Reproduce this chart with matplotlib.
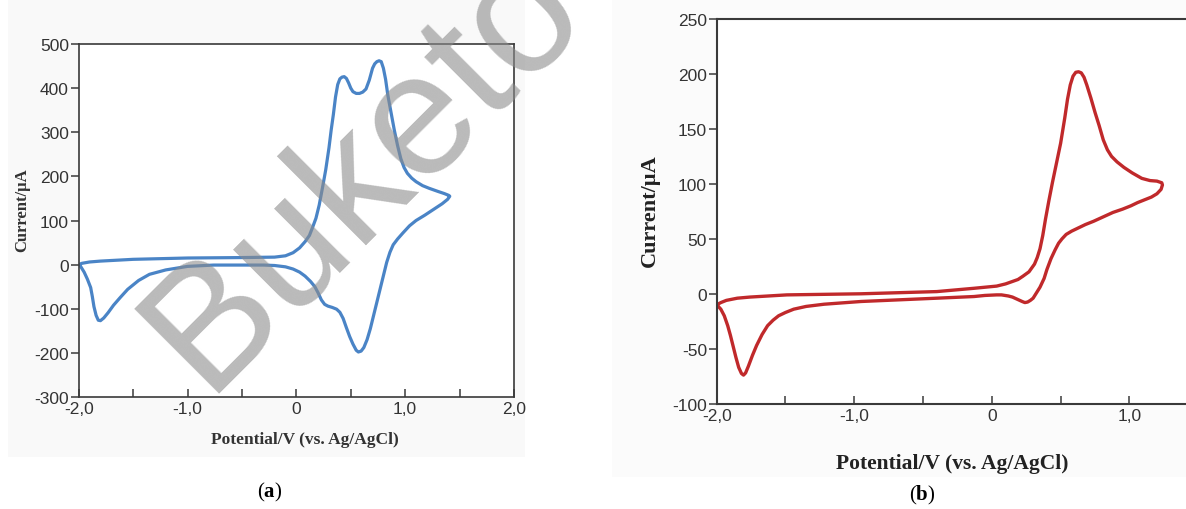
import matplotlib
matplotlib.use("Agg")
import matplotlib.pyplot as plt
from matplotlib.patches import Rectangle

plt.rcParams["axes.unicode_minus"] = False

# ---------------- data ----------------
# Panel (a): cyclic voltammogram, forward (anodic) then reverse scan
a_potential = [-2.0, -1.97, -1.9, -1.8, -1.5, -1.0, -0.5, -0.2, -0.1, -0.03, 0.03, 0.08,
               0.12, 0.15, 0.18, 0.21, 0.24, 0.27, 0.30, 0.32, 0.34, 0.36, 0.38, 0.40,
               0.42, 0.44, 0.46, 0.48, 0.50, 0.52, 0.55, 0.58, 0.61, 0.64, 0.67, 0.70,
               0.72, 0.74, 0.76, 0.78, 0.80, 0.82, 0.84, 0.87, 0.90, 0.93, 0.96, 0.99,
               1.02, 1.06, 1.10, 1.16, 1.22, 1.30, 1.36, 1.40, 1.41,
               1.39, 1.34, 1.26, 1.18, 1.10, 1.04, 0.98, 0.93, 0.89, 0.86, 0.83, 0.80,
               0.77, 0.74, 0.71, 0.68, 0.65, 0.62, 0.595, 0.57, 0.55, 0.52, 0.49, 0.46,
               0.43, 0.40, 0.37, 0.33, 0.29, 0.26, 0.23, 0.20, 0.17, 0.13, 0.08, 0.03,
               -0.03, -0.1, -0.2, -0.3, -0.76, -1.0, -1.2, -1.35, -1.45, -1.55, -1.62,
               -1.68, -1.73, -1.77, -1.80, -1.82, -1.84, -1.86, -1.875, -1.89, -1.92,
               -1.95, -1.98, -2.0]
a_current = [0, 3, 6, 8, 12, 15, 16, 17, 20, 27, 38, 52,
             66, 85, 105, 135, 174, 215, 265, 305, 340, 380, 408, 421,
             425, 426, 422, 412, 400, 392, 388, 388, 391, 398, 418, 445,
             455, 460, 462, 460, 445, 420, 385, 345, 305, 270, 240, 220,
             207, 196, 188, 179, 173, 166, 161, 157, 155,
             148, 138, 125, 112, 100, 88, 72, 58, 45, 28, 5, -25,
             -55, -85, -115, -145, -170, -188, -196, -198, -194, -180, -163, -143,
             -122, -108, -101, -97, -94, -90, -80, -64, -50, -38, -26, -17,
             -10, -5, -2, -1, -1, -4, -12, -22, -36, -56, -75,
             -92, -109, -121, -127, -126, -115, -95, -72, -52, -33,
             -17, -5, 0]

# Panel (b)
b_potential = [-2.0, -1.97, -1.93, -1.85, -1.76, -1.49, -0.95, -0.4, -0.13, 0.035, 0.10,
               0.145, 0.19, 0.226, 0.27, 0.31, 0.33, 0.35, 0.37, 0.39, 0.415, 0.44, 0.47,
               0.50, 0.53, 0.55, 0.57, 0.59, 0.61, 0.63, 0.65, 0.67, 0.69, 0.72, 0.75,
               0.78, 0.81, 0.84, 0.87, 0.91, 0.96, 1.02, 1.09, 1.15, 1.20, 1.235, 1.24,
               1.23, 1.20, 1.16, 1.12, 1.06, 1.01, 0.95, 0.88, 0.81, 0.74, 0.68, 0.63,
               0.58, 0.54, 0.51, 0.485, 0.46, 0.43, 0.40, 0.38, 0.35, 0.32, 0.30, 0.28,
               0.26, 0.24, 0.22, 0.185, 0.15, 0.12, 0.07, 0.035, -0.05, -0.13, -0.4,
               -0.95, -1.22, -1.35, -1.44, -1.50, -1.55, -1.59, -1.63, -1.67, -1.71,
               -1.74, -1.77, -1.79, -1.805, -1.82, -1.84, -1.86, -1.88, -1.90, -1.92,
               -1.945, -1.97, -2.0]
b_current = [-10, -8, -6, -4, -3, -1, 0, 2, 5, 7, 9,
             11, 13, 16, 20, 27, 33, 41, 53, 68, 85, 101, 119,
             137, 160, 177, 190, 198, 201.5, 202, 201, 197, 190, 178, 165,
             153, 140, 131, 125, 120, 115, 110, 105, 103, 102.5, 101, 99,
             95, 91, 88, 86, 83, 80, 77, 74, 70, 66, 63, 60,
             57, 54, 50, 46, 40, 32, 22, 14, 6, 0, -4, -6,
             -7.5, -8, -7, -5, -3, -2, -1, -1, -1.5, -2.5, -4,
             -7, -9.5, -11.5, -14, -17, -20, -24, -29, -37, -47,
             -56, -66, -72, -74, -72.5, -67, -58, -48, -38, -29,
             -20, -14, -10]

a_xticks = [-2.0, -1.0, 0.0, 1.0, 2.0]
a_xticklabels = ["-2,0", "-1,0", "0", "1,0", "2,0"]
a_yticks = [-300, -200, -100, 0, 100, 200, 300, 400, 500]
b_xticks = [-2.0, -1.0, 0.0, 1.0]
b_xticklabels = ["-2,0", "-1,0", "0", "1,0"]
b_yticks = [-100, -50, 0, 50, 100, 150, 200, 250]

xlabel_text = "Potential/V (vs. Ag/AgCl)"
ylabel_text = "Current/\u00b5A"

# ---------------- figure ----------------
W, H = 1186, 510
fig = plt.figure(figsize=(W / 100, H / 100), dpi=100)
fig.patch.set_facecolor("white")

def fx(px):
    return px / W

def fy(py):
    return 1 - py / H

# light background of the two source images
fig.patches.append(Rectangle((fx(8), fy(458)), fx(525) - fx(8), fy(0) - fy(458),
                             transform=fig.transFigure, facecolor="#f9f9f9",
                             edgecolor="none", zorder=-5))
fig.patches.append(Rectangle((fx(612), fy(478)), fx(1186) - fx(612), fy(0) - fy(478),
                             transform=fig.transFigure, facecolor="#fbfbfb",
                             edgecolor="none", zorder=-5))

spine_col = "#3a3a3a"
serif = ["Liberation Serif", "DejaVu Serif"]
sans = ["Liberation Sans", "DejaVu Sans"]

# ---- panel a ----
axa = fig.add_axes([fx(78.7), fy(398), fx(514) - fx(78.7), fy(45) - fy(398)])
axa.set_facecolor("white")
axa.plot(a_potential, a_current, color="#4a84c6", lw=2.3, solid_joinstyle="round",
         solid_capstyle="round")
axa.set_xlim(-2, 2)
axa.set_ylim(-300, 500)
axa.set_xticks(a_xticks)
axa.set_xticklabels(a_xticklabels)
axa.set_xticks([-1.5, -0.5, 0.5, 1.5], minor=True)
axa.set_yticks(a_yticks)
for s in axa.spines.values():
    s.set_color(spine_col)
    s.set_linewidth(1.2)
axa.tick_params(axis="x", which="both", direction="in", length=6, width=1.1,
                color=spine_col, pad=3)
axa.tick_params(axis="y", direction="out", length=6, width=1.1, color=spine_col, pad=1)
for lab in axa.get_xticklabels() + axa.get_yticklabels():
    lab.set_family(sans)
    lab.set_fontsize(12.5)
    lab.set_color("#333333")
fig.text(fx(305), fy(440), xlabel_text, family=serif, fontweight="bold", fontsize=12.5,
         ha="center", va="center", color="#333333")
fig.text(fx(22), fy(210), ylabel_text, family=serif, fontweight="bold", fontsize=12,
         ha="center", va="center", rotation=90, color="#333333")

# ---- panel b ----
axb = fig.add_axes([fx(716.7), fy(404.7), fx(1267) - fx(716.7), fy(20) - fy(404.7)])
axb.set_facecolor("white")
axb.plot(b_potential, b_current, color="#c0292b", lw=2.4, solid_joinstyle="round",
         solid_capstyle="round")
axb.set_xlim(-2, 2)
axb.set_ylim(-100, 250)
axb.set_xticks(b_xticks)
axb.set_xticklabels(b_xticklabels)
axb.set_xticks([-1.5, -0.5, 0.5], minor=True)
axb.set_yticks(b_yticks)
axb.spines["right"].set_visible(False)
for s in axb.spines.values():
    s.set_color(spine_col)
    s.set_linewidth(1.5)
axb.tick_params(axis="x", which="both", direction="in", length=6, width=1.1,
                color=spine_col, pad=3)
axb.tick_params(axis="y", direction="out", length=6, width=1.1, color=spine_col, pad=1)
for lab in axb.get_xticklabels() + axb.get_yticklabels():
    lab.set_family(sans)
    lab.set_fontsize(12.5)
    lab.set_color("#333333")
fig.text(fx(952), fy(464), xlabel_text, family=serif, fontweight="bold", fontsize=15.5,
         ha="center", va="center", color="#222222")
fig.text(fx(650), fy(211), ylabel_text, family=serif, fontweight="bold", fontsize=16,
         ha="center", va="center", rotation=90, color="#222222")

# ---- panel captions ----
plt.rcParams["mathtext.fontset"] = "custom"
plt.rcParams["mathtext.bf"] = "Liberation Serif:bold"
fig.text(fx(270), fy(492), r"($\mathbf{a}$)", family=serif, fontsize=15,
         ha="center", va="center", color="black")
fig.text(fx(922), fy(495), r"($\mathbf{b}$)", family=serif, fontsize=15,
         ha="center", va="center", color="black")

# ---- watermark ----
fig.text(fx(395), fy(140), "Buketov", family=sans, fontsize=125, rotation=45,
         ha="center", va="center", color="#8c8c8c", alpha=0.6, zorder=10)

fig.savefig("out.png", dpi=100)
